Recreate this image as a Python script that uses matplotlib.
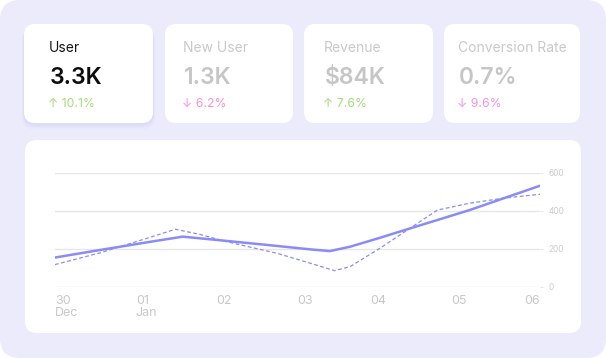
import matplotlib.pyplot as plt
from matplotlib.patches import FancyBboxPatch

# kpi cards
card_labels = ["User", "New User", "Revenue", "Conversion Rate"]
card_values = ["3.3K", "1.3K", "$84K", "0.7%"]
card_changes = ["↑ 10.1%", "↓ 6.2%", "↑ 7.6%", "↓ 9.6%"]
card_up = [True, False, True, False]

# line chart (x in days from 30 Dec)
day_labels = ["30\nDec", "01\nJan", "02", "03", "04", "05", "06"]
solid_x = [0, 0.56, 1.18, 1.58, 2.04, 2.54, 3.16, 3.40, 3.65, 4.02, 4.36, 5.13, 6]
solid_y = [155, 195, 238, 265, 246, 225, 198, 189, 212, 259, 304, 405, 533]
dash_x = [0, 0.56, 1.18, 1.49, 1.79, 2.13, 2.75, 3.16, 3.46, 3.65, 4.02, 4.36, 4.73, 5.13, 5.54, 6]
dash_y = [118, 180, 262, 304, 277, 238, 177, 125, 86, 107, 204, 300, 405, 441, 467, 488]

W, H = 606, 358
lav = "#ebebfc"
line_col = "#8b8bf6"
fam = ["Inter", "DejaVu Sans"]

fig = plt.figure(figsize=(W / 100, H / 100), dpi=100)
fig.patch.set_facecolor("white")

bg = fig.add_axes([0, 0, 1, 1])
bg.set_xlim(0, W)
bg.set_ylim(H, 0)
bg.axis("off")

def rbox(x0, y0, x1, y1, r, **kw):
    p = FancyBboxPatch((x0, y0), x1 - x0, y1 - y0,
                       boxstyle=f"round,pad=0,rounding_size={r}", **kw)
    bg.add_patch(p)

rbox(0, 0, W, H, 20, facecolor=lav, edgecolor="none")

card_x = [(24, 153), (165, 293), (304, 433), (444, 580)]
text_x = [49, 183, 324, 458]

# soft shadow under the first card
for i, a in enumerate([0.06, 0.08, 0.1, 0.12]):
    g = 4 - i
    rbox(24 - g * 0.5, 26 + g * 0.5, 153 + g * 0.5, 124 + g * 1.3, 12,
         facecolor="#c4bff5", edgecolor="none", alpha=a)

for i, (x0, x1) in enumerate(card_x):
    rbox(x0, 24, x1, 123, 11, facecolor="white", edgecolor="none")
    active = i == 0
    bg.text(text_x[i], 52.5, card_labels[i], fontsize=10, family=fam,
            color="#151515" if active else "#c9c9c9", va="baseline")
    bg.text(text_x[i] + 1, 84, card_values[i], fontsize=16.5, family=fam,
            fontweight="semibold", color="#0d0d0d" if active else "#c6c6c6",
            va="baseline")
    bg.text(text_x[i] - 1, 107, card_changes[i], fontsize=8.8, family=fam,
            color="#a6dc78" if card_up[i] else "#f793d4", va="baseline")

# chart card
rbox(25, 140, 581, 333, 12, facecolor="white", edgecolor="none")

ax = fig.add_axes([55 / W, (H - 287) / H, (540 - 55) / W, (287 - 173) / H])
ax.set_facecolor("none")
ax.plot(dash_x, dash_y, color=line_col, lw=0.9, ls=(0, (3, 2)),
        solid_capstyle="round")
ax.plot(solid_x, solid_y, color=line_col, lw=1.8, solid_joinstyle="round",
        solid_capstyle="round")
ax.set_xlim(0, 6)
ax.set_ylim(0, 600)
ax.set_yticks([0, 200, 400, 600])
ax.grid(axis="y", color="#e6e6e6", lw=1)
ax.set_axisbelow(True)
for s in ax.spines.values():
    s.set_visible(False)
ax.yaxis.tick_right()
ax.tick_params(axis="y", length=2, width=0.6, color="#e0e0e0", pad=4,
               labelsize=6, labelcolor="#cccccc")
ax.set_xticks(range(len(day_labels)))
ax.set_xticklabels(day_labels, fontsize=9, color="#c8c8c8", family=fam,
                   linespacing=1.0)
ax.tick_params(axis="x", length=0, pad=6)
aligns = ["left", "left", "left", "left", "center", "center", "right"]
for lab, ha in zip(ax.get_xticklabels(), aligns):
    lab.set_ha(ha)
    lab.set_va("top")
for lab in ax.get_yticklabels():
    lab.set_family(fam)

fig.savefig("out.png", dpi=100, facecolor="white")
